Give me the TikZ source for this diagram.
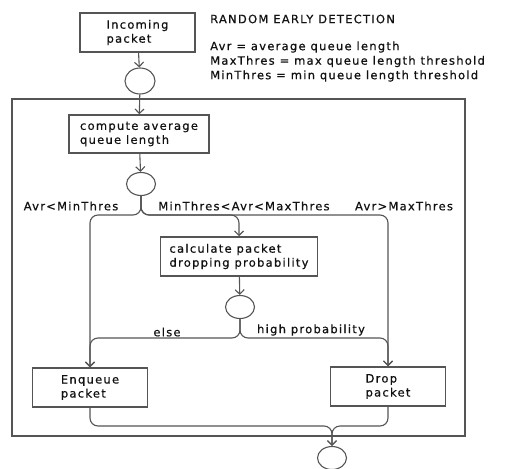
\documentclass[tikz,border=0pt]{standalone}
\usepackage{fontspec}
\setmainfont[LetterSpace=11,FakeBold=0.6]{DejaVu Sans}
\usetikzlibrary{arrows.meta,shapes.geometric}
\definecolor{ln}{HTML}{555555}
\definecolor{tx}{HTML}{111111}
\begin{document}
\begin{tikzpicture}[x=1pt,y=-1pt,
  font=\fontsize{11.5}{14}\selectfont,
  box/.style={draw=ln,line width=1.5pt,minimum width=115pt,minimum height=39pt,align=left,text=tx,inner sep=2pt},
  circ/.style={draw=ln,line width=1.1pt,ellipse,minimum width=29pt,minimum height=23pt,inner sep=0pt},
  arr/.style={draw=ln,line width=1.1pt,-{Straight Barb[length=4.5pt,width=9pt]}},
  rc/.style={rounded corners=8pt},
  lab/.style={text=tx,inner sep=0pt}]
\useasboundingbox (0,0) rectangle (505,468);
% frame
\draw[ln,line width=1.3pt] (12,99) rectangle (465,436);
% nodes
\node[box] (inc) at (137.5,32.5) {Incoming\\packet};
\node[circ,minimum width=30pt,minimum height=26pt] (c1) at (140,81) {};
\node[box,minimum width=140pt,minimum height=38pt] (comp) at (139,134) {compute average\\queue length};
\node[circ] (c2) at (141,184) {};
\node[box,minimum width=157pt] (calc) at (239,256.5) {calculate packet\\dropping probability};
\node[circ] (c3) at (240,307) {};
\node[box] (enq) at (90,387.5) {Enqueue\\packet};
\node[box] (drop) at (388,386.5) {Drop\\packet};
\node[circ] (c4) at (332,458) {};
% rows
\coordinate (row1) at (0,215);
\coordinate (row2) at (0,338);
\coordinate (row3) at (0,426);
% connectors
\draw[arr] (inc) -- (c1);
\draw[arr] (c1) -- (comp);
\draw[arr] (comp) -- (c2);
\draw[arr,rc] (c2.south) |- (enq.north |- row1) -- (enq.north);
\draw[arr,rc] (c2.south) |- (calc.north |- row1) -- (calc.north);
\draw[arr,rc] (c2.south) |- (drop.north |- row1) -- (drop.north);
\draw[arr] (calc) -- (c3);
\draw[arr,rc] (c3.south) |- (enq.north |- row2) -- (enq.north);
\draw[arr,rc] (c3.south) |- (drop.north |- row2) -- (drop.north);
\draw[arr,rc] (enq.south) |- (c4.north |- row3) -- (c4.north);
\draw[arr,rc] (drop.south) |- (c4.north |- row3) -- (c4.north);
% labels
\node[lab] (l1) at (71,206) {Avr<MinThres};
\node[lab] (l2) at (244,206) {MinThres<Avr<MaxThres};
\node[lab] (l3) at (404,206) {Avr>MaxThres};
\node[lab] (l4) at (167,332) {else};
\node[lab] (l5) at (311,330) {high probability};
% legend
\node[lab,anchor=west] (t0) at (210,19) {RANDOM EARLY DETECTION};
\node[lab,anchor=west] (t1) at (210,47) {Avr = average queue length};
\node[lab,anchor=west] (t2) at (210,61.5) {MaxThres = max queue length threshold};
\node[lab,anchor=west] (t3) at (210,76) {MinThres = min queue length threshold};
\end{tikzpicture}
\end{document}
